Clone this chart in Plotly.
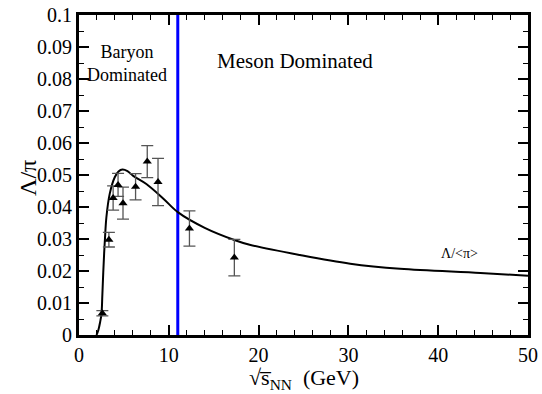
import plotly.graph_objects as go

# data points
sqrt_s = [2.6, 3.33, 3.8, 4.35, 4.9, 6.3, 7.6, 8.8, 12.3, 17.3]
ratio = [0.0068, 0.0298, 0.0428, 0.0469, 0.0412, 0.0463, 0.0542, 0.0478, 0.0333, 0.0242]
ratio_err = [0.0008, 0.0023, 0.0038, 0.0036, 0.0050, 0.0041, 0.0050, 0.0074, 0.0055, 0.0057]

# model curve
curve_x = [1.95, 2.15, 2.35, 2.5, 2.6, 2.7, 2.8, 2.9, 3.05, 3.42, 3.98, 4.4, 4.84, 5.4, 6.0,
           7.5, 9.4, 11.0, 14.0, 17.3, 19.0, 24.6, 30.2, 35.75, 44.7, 50.0]
curve_y = [0.0, 0.0015, 0.0040, 0.0065, 0.0125, 0.0195, 0.0255, 0.0305, 0.0368, 0.0441, 0.0493,
           0.0511, 0.0517, 0.0512, 0.0498, 0.0472, 0.0426, 0.0384, 0.0335, 0.0297, 0.0282,
           0.0250, 0.0223, 0.0207, 0.0194, 0.0185]

boundary_x = [11.0, 11.0]
boundary_y = [0.0, 0.1]

x_title = "√s\u0305<sub>NN</sub>  (GeV)"
y_title = "Λ/π"

FONT = "Liberation Serif, Times New Roman, DejaVu Serif, serif"

fig = go.Figure()
fig.add_trace(go.Scatter(x=boundary_x, y=boundary_y, mode="lines",
                         line=dict(color="#0000ff", width=3), showlegend=False))
fig.add_trace(go.Scatter(x=curve_x, y=curve_y, mode="lines", line_shape="spline",
                         line=dict(color="black", width=2), showlegend=False))
fig.add_trace(go.Scatter(x=sqrt_s, y=ratio, mode="markers",
                         marker=dict(symbol="triangle-up", color="black", size=8),
                         error_y=dict(type="data", array=ratio_err, color="#555555",
                                      thickness=1.3, width=6),
                         showlegend=False))

axis_common = dict(showline=True, linecolor="black", linewidth=3, mirror="allticks",
                   ticks="inside", ticklen=10, tickwidth=2, tickcolor="black",
                   showgrid=False, zeroline=False, automargin=False,
                   tickfont=dict(family=FONT, size=20, color="black"))

fig.update_xaxes(range=[0, 50], dtick=10, tick0=0,
                 minor=dict(ticks="inside", ticklen=5, tickwidth=1, dtick=2, tickcolor="black"),
                 **axis_common)
fig.update_yaxes(range=[0, 0.1], dtick=0.01, tick0=0,
                 minor=dict(ticks="inside", ticklen=5, tickwidth=1, dtick=0.005, tickcolor="black"),
                 **axis_common)

# axis titles
fig.add_annotation(x=0.5, y=-0.136, xref="paper", yref="paper", text=x_title, showarrow=False,
                   yanchor="middle", borderpad=0,
                   font=dict(family=FONT, size=22, color="black"))
fig.add_annotation(x=-0.114, y=0.49, xref="paper", yref="paper", text=y_title, showarrow=False,
                   textangle=-90, xanchor="center", yanchor="middle",
                   font=dict(family=FONT, size=24, color="black"))

fig.add_annotation(x=5.3, y=0.0847, text="Baryon<br>Dominated", showarrow=False,
                   font=dict(family=FONT, size=18, color="black"), align="center",
                   xref="x", yref="y")
fig.add_annotation(x=24.0, y=0.0855, text="Meson Dominated", showarrow=False,
                   font=dict(family=FONT, size=21, color="black"), xref="x", yref="y")
fig.add_annotation(x=42.4, y=0.0255, text="Λ/&lt;π&gt;", showarrow=False,
                   font=dict(family=FONT, size=14, color="black"), xref="x", yref="y")

fig.update_layout(width=542, height=394, margin=dict(l=79, r=14, t=15, b=59),
                  plot_bgcolor="white", paper_bgcolor="white",
                  font=dict(family=FONT, color="black"))
fig.write_html("out.html", config={"displayModeBar": False},
               post_script="document.body.style.margin='0px';")
